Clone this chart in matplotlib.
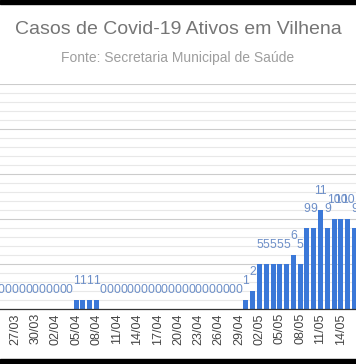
import matplotlib
matplotlib.use("Agg")
import matplotlib.pyplot as plt
from matplotlib.patches import Rectangle

# ---- data ----
dates = (["25/03", "26/03", "27/03", "28/03", "29/03", "30/03", "31/03"]
         + ["%02d/04" % d for d in range(1, 31)]
         + ["%02d/05" % d for d in range(1, 17)])
values = ([0] * 11          # 25/03 - 04/04
          + [1, 1, 1, 1]    # 05/04 - 08/04
          + [0] * 21        # 09/04 - 29/04
          + [1, 2, 5, 5, 5, 5, 5, 6, 5, 9, 9, 11, 9, 10, 10, 10, 9])  # 30/04 - 16/05
title = "Casos de Covid-19 Ativos em Vilhena"
subtitle = "Fonte: Secretaria Municipal de Saúde"

plt.rcParams['font.family'] = ['Liberation Sans', 'DejaVu Sans']

W, H = 356, 364
fig = plt.figure(figsize=(W / 100, H / 100), dpi=100)
fig.patch.set_facecolor("white")

# axes placement in pixels
x0_px, step_px = 1.42, 6.79
left_px = x0_px - 0.5 * step_px
right_px = x0_px + (len(dates) - 0.5) * step_px
bottom_px, top_px = 309, 84
ax = fig.add_axes([left_px / W, (H - bottom_px) / H,
                   (right_px - left_px) / W, (bottom_px - top_px) / H])

idx = list(range(len(dates)))
ax.bar(idx, values, width=0.74, color="#3b78d8", zorder=3)
ax.set_xlim(-0.5, len(dates) - 0.5)
ax.set_ylim(0, 25)

# gridlines
for v in range(1, 26):
    ax.axhline(v, color="#cccccc" if v % 5 == 0 else "#e8e8e8", lw=0.8, zorder=1)

# data labels
for i, v in zip(idx, values):
    ax.annotate(str(v), (i, v), xytext=(0, 13.7), textcoords="offset points",
                ha="center", va="center", fontsize=8.7, color="#6d8fc8",
                annotation_clip=False, zorder=4)

tick_pos = idx[2::3]
ax.set_xticks(tick_pos)
ax.set_xticklabels([dates[i] for i in tick_pos], rotation=90, fontsize=9,
                   color="#444444")
ax.tick_params(axis="x", length=0, pad=3)
ax.set_yticks([])
for s in ["top", "left", "right"]:
    ax.spines[s].set_visible(False)
ax.spines["bottom"].set_color("#333333")
ax.spines["bottom"].set_linewidth(0.9)
ax.spines["bottom"].set_zorder(5)

fig.text(178 / W, 1 - 30 / H, title, ha="center", va="center",
         fontsize=14, color="#757575")
fig.text(178 / W, 1 - 58 / H, subtitle, ha="center", va="center",
         fontsize=10, color="#9e9e9e")

# black letterbox strips seen in the reference
fig.patches.append(Rectangle((0, 1 - 4 / H), 1, 4 / H, transform=fig.transFigure,
                             color="black", zorder=10))
fig.patches.append(Rectangle((0, 0), 1, 5 / H, transform=fig.transFigure,
                             color="black", zorder=10))

fig.savefig("out.png", dpi=100)
